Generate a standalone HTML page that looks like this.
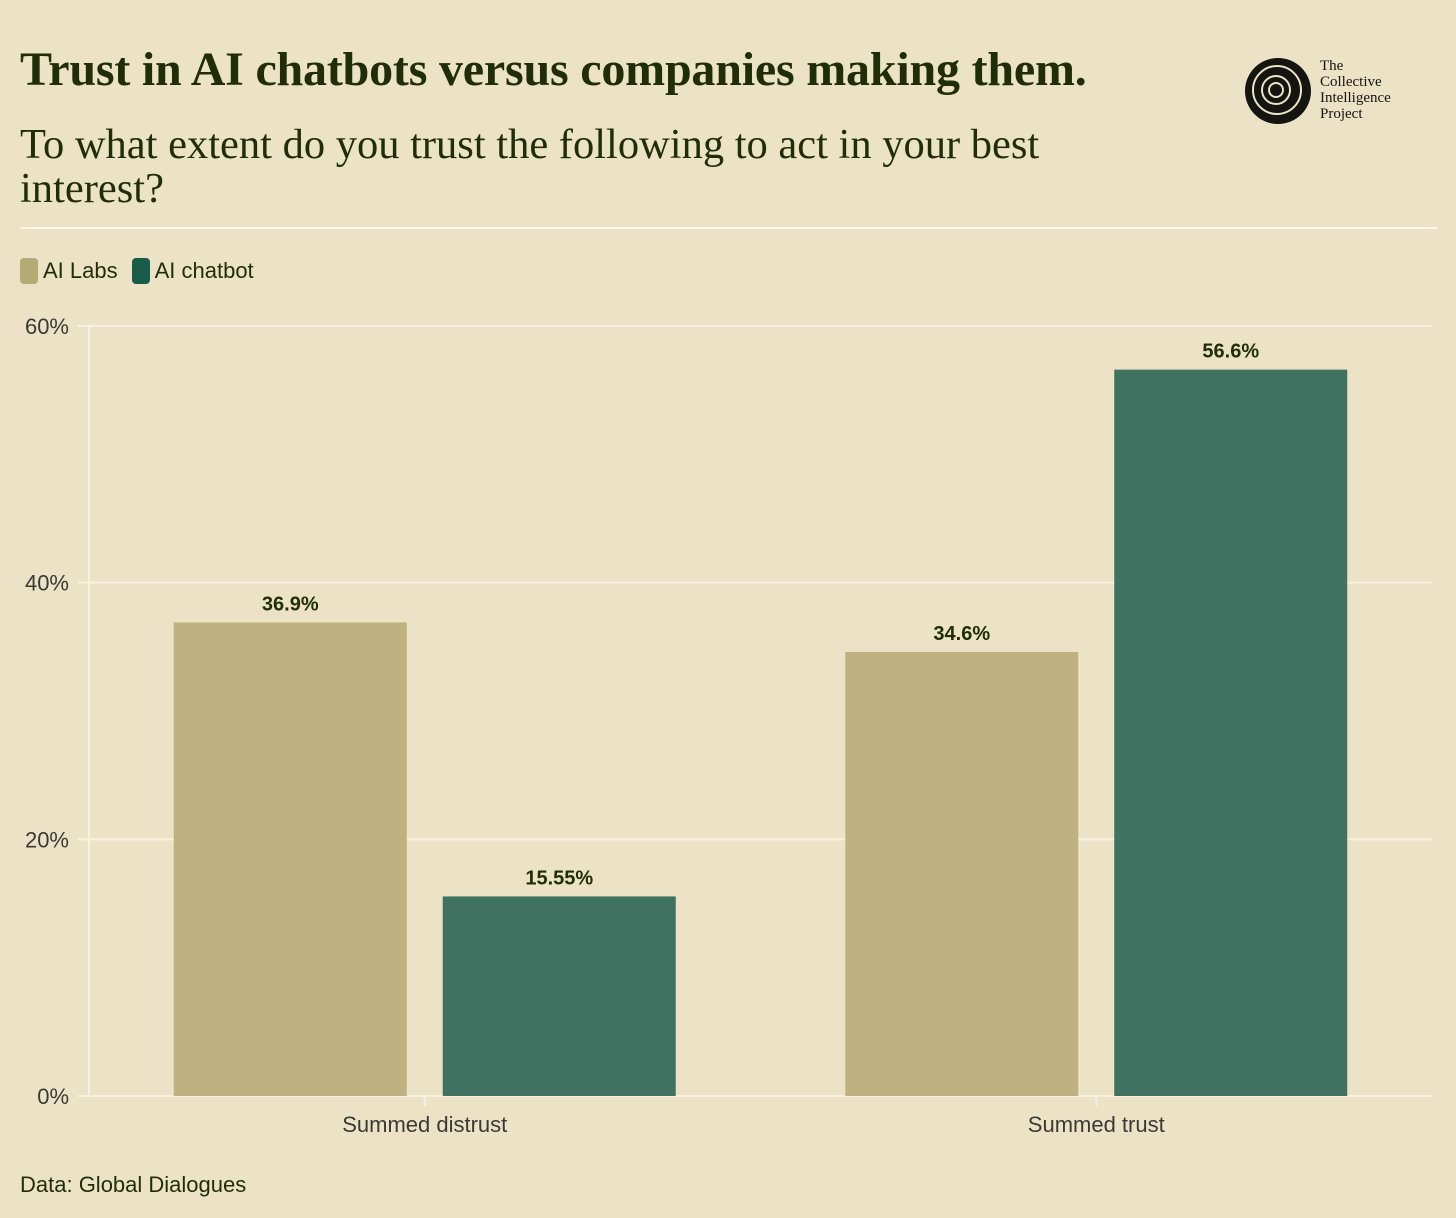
<!DOCTYPE html>
<html><head><meta charset="utf-8"><style>
body{margin:0;background:#ece2c6;width:1456px;height:1218px;overflow:hidden;font-family:"Liberation Sans",sans-serif;position:relative}
.t{position:absolute;color:#1f2d0a}
</style></head><body>
<div class="t" style="left:20px;top:42px;font-family:'Liberation Serif',serif;font-weight:bold;font-size:48px;letter-spacing:-0.2px">Trust in AI chatbots versus companies making them.</div>
<div class="t" style="left:20px;top:123px;width:1080px;font-family:'Liberation Serif',serif;font-size:42.5px;line-height:44px">To what extent do you trust the following to act in your best interest?</div>
<div style="position:absolute;left:1243px;top:56px;width:70px;height:70px">
<svg width="70" height="70"><circle cx="35" cy="35" r="33" fill="#141410"/><circle cx="34" cy="34" r="24" fill="none" stroke="#ece2c6" stroke-width="2"/><circle cx="33" cy="34" r="14" fill="none" stroke="#ece2c6" stroke-width="2"/><circle cx="33" cy="34" r="7" fill="none" stroke="#ece2c6" stroke-width="2"/></svg></div>
<div class="t" style="left:1320px;top:58px;font-family:'Liberation Serif',serif;font-size:15px;line-height:16px;color:#141410">The<br>Collective<br>Intelligence<br>Project</div>
<div style="position:absolute;left:20px;top:227px;width:1418px;height:2px;background:#fff8e8"></div>
<div style="position:absolute;left:20px;top:258px;font-size:22px;color:#1f2d0a;display:flex;align-items:center">
<span style="width:18px;height:26px;border-radius:4px;background:#b5a974;margin-right:5px"></span><span>AI Labs</span>
<span style="width:18px;height:26px;border-radius:4px;background:#1a5c4a;margin:0 5px 0 14px"></span><span>AI chatbot</span></div>
<svg id="chart" width="1456" height="1218" style="position:absolute;left:0;top:0"></svg>
<div class="t" style="left:20px;top:1172px;font-size:22px">Data: Global Dialogues</div>
<script>
const categories=["Summed distrust","Summed trust"];
const seriesNames=["AI Labs","AI chatbot"];
const labsValues=[36.9,34.6];
const chatbotValues=[15.55,56.6];
const valueLabels=[["36.9%","34.6%"],["15.55%","56.6%"]];
const yTicks=[0,20,40,60];
const ns="http://www.w3.org/2000/svg",svg=document.getElementById("chart");
const x0=89,x1=1432,y0=1096,yTop=326,yMax=60;
const y=v=>y0-(y0-yTop)*v/yMax;
const band=(x1-x0)/categories.length;
const cx=i=>x0+band*(i+0.5);
function mk(t,a,txt){const e=document.createElementNS(ns,t);for(const k in a)e.setAttribute(k,a[k]);if(txt!=null)e.textContent=txt;svg.appendChild(e);return e;}
yTicks.forEach(v=>{
const g=mk("line",{x1:78,x2:x1,y1:y(v),y2:y(v),stroke:"#f7f1e3","stroke-width":2});


const t=mk("text",{x:69,y:y(v)+8,"text-anchor":"end","font-size":22,fill:"#3a3a35","font-family":"Liberation Sans, sans-serif"},v+"%");


});
const ax=mk("line",{x1:x0,x2:x0,y1:yTop,y2:y0,stroke:"#f7f1e3","stroke-width":2});


const series=[labsValues,chatbotValues],colors=["#bfb280","#3f7260"];
const bw=233,gap=36;
categories.forEach((c,i)=>{
const tk=mk("line",{x1:cx(i),x2:cx(i),y1:y0,y2:y0+10,stroke:"#f7f1e3","stroke-width":2});


const lb=mk("text",{x:cx(i),y:y0+36,"text-anchor":"middle","font-size":22,fill:"#3a3a35","font-family":"Liberation Sans, sans-serif"},c);


series.forEach((s,j)=>{
const bx=cx(i)+(j===0?-gap/2-bw:gap/2);
const r=mk("rect",{x:bx,y:y(s[i]),width:bw,height:y0-y(s[i]),fill:colors[j]});


const vl=mk("text",{x:bx+bw/2,y:y(s[i])-12,"text-anchor":"middle","font-size":20,"font-weight":"bold",fill:"#1f2d0a","font-family":"Liberation Sans, sans-serif"},valueLabels[j][i]);


});
});
</script>
</body></html>
